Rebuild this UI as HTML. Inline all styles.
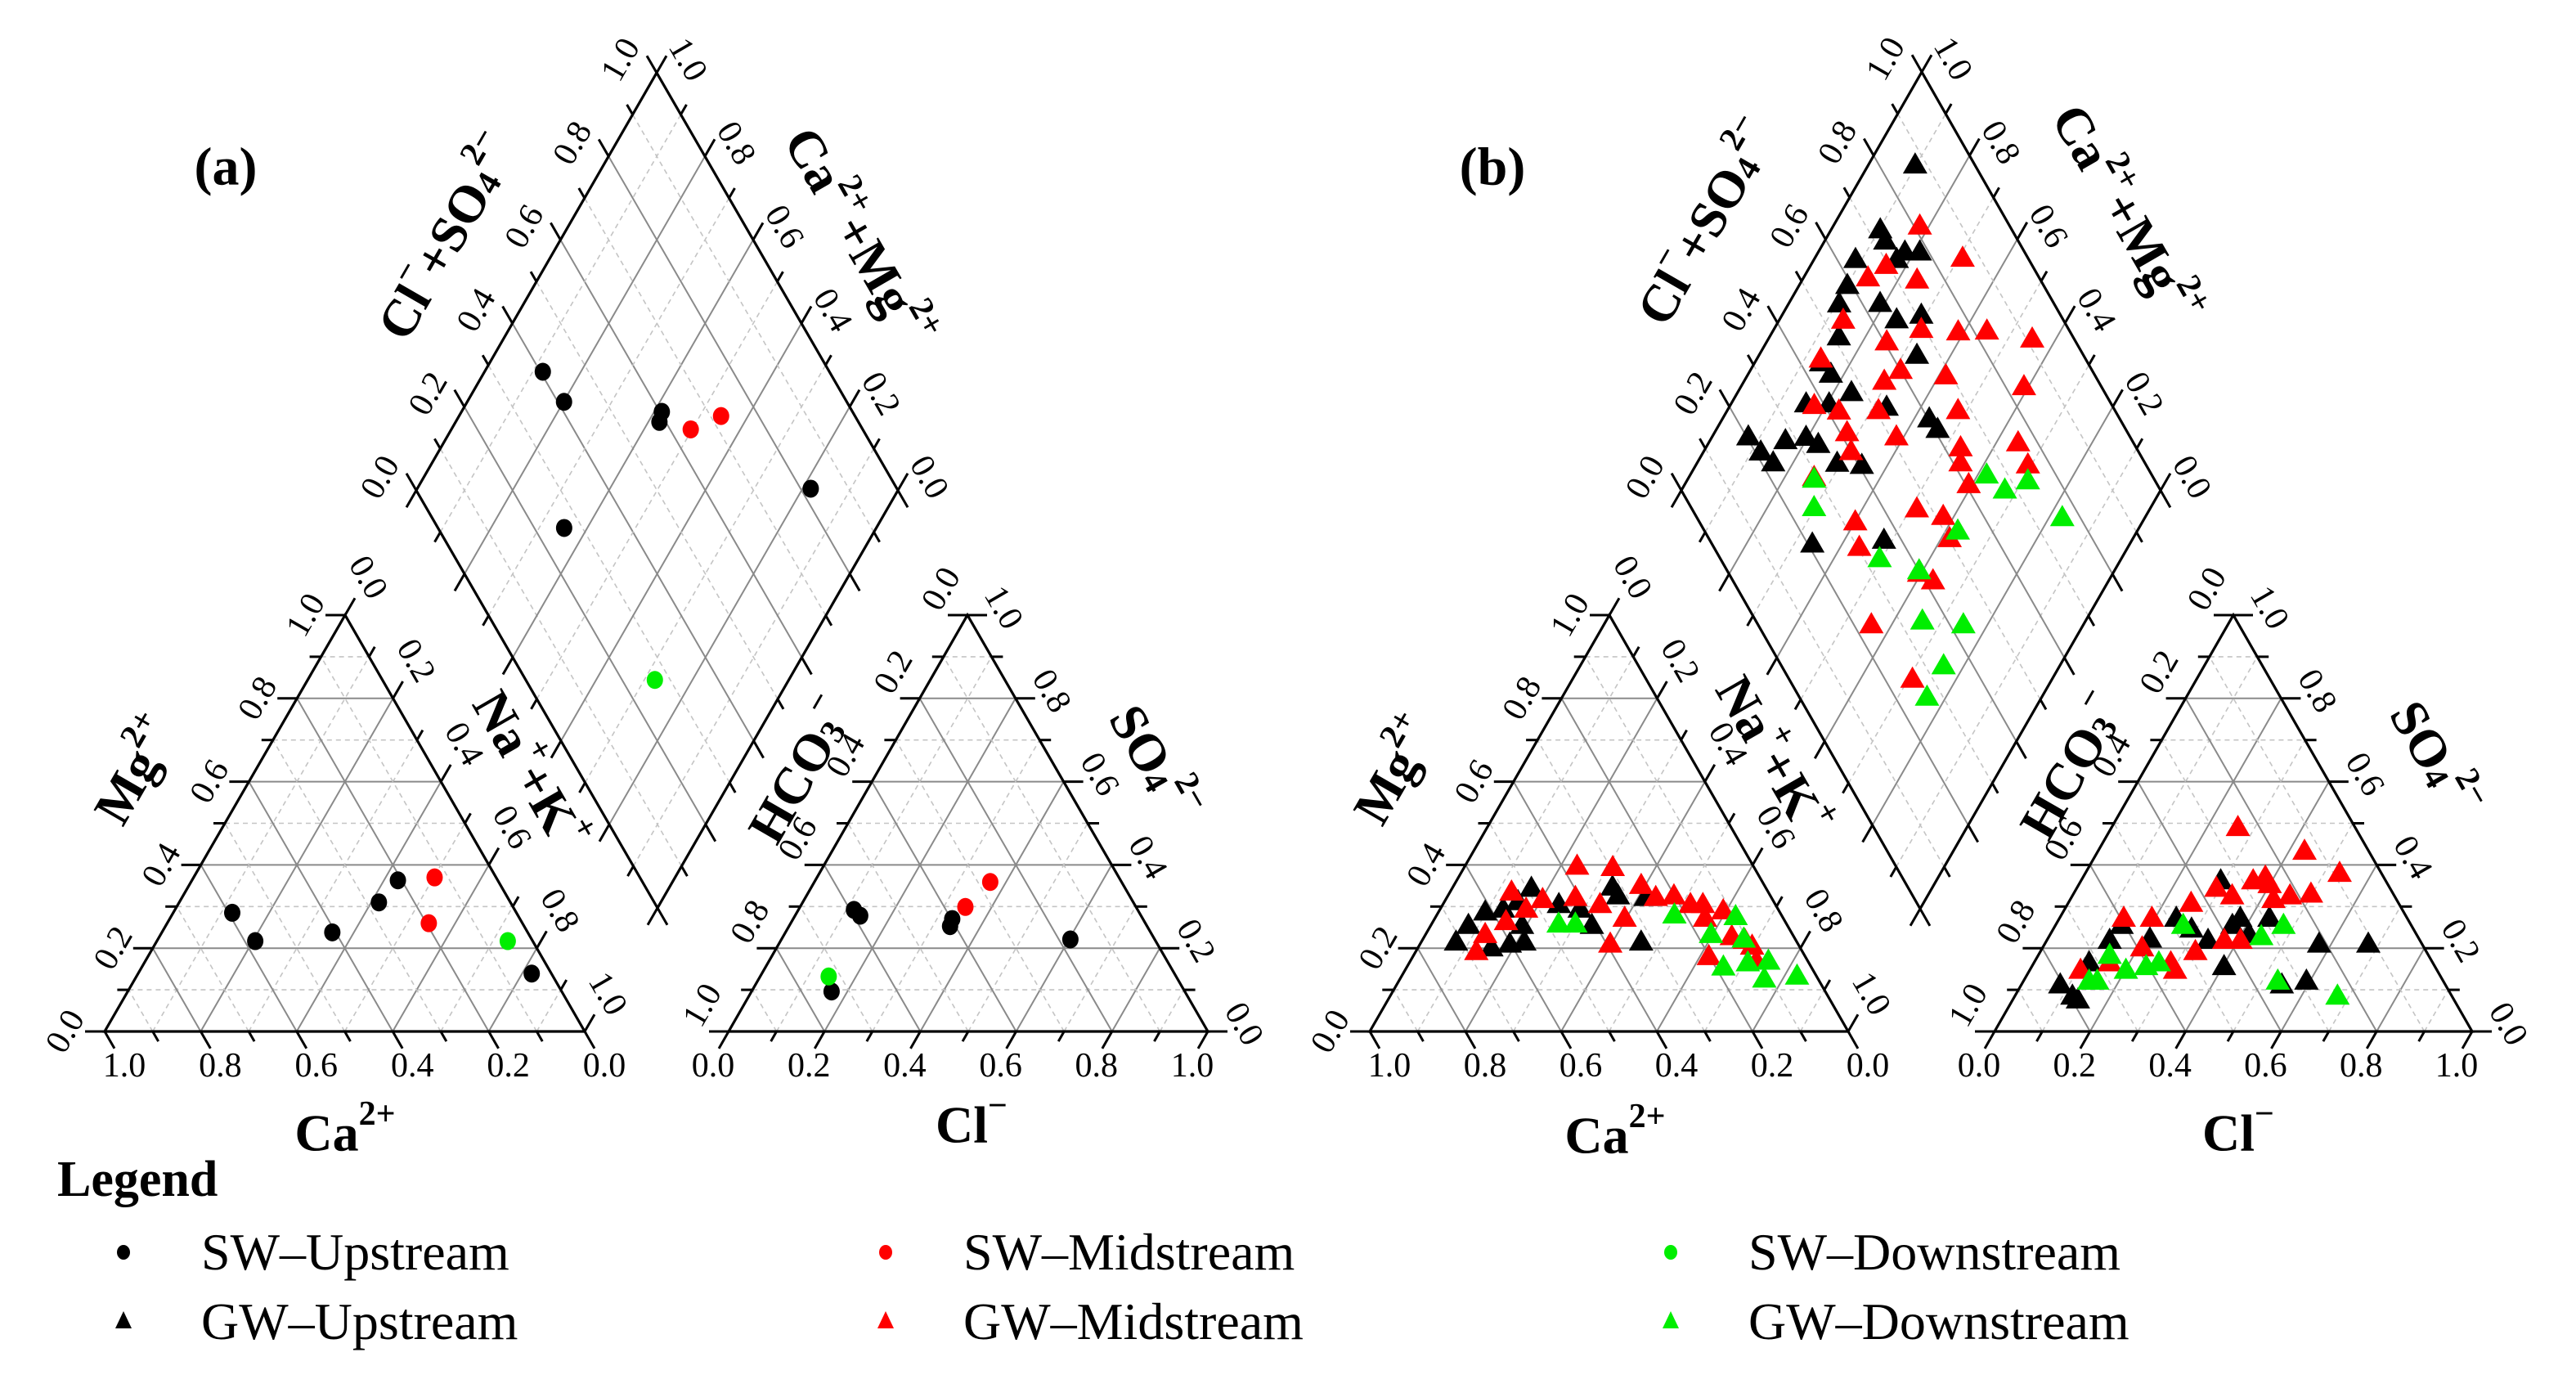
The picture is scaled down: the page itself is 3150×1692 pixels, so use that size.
<!DOCTYPE html>
<html><head><meta charset="utf-8"><style>
html,body{margin:0;padding:0;background:#fff;}
svg{display:block;font-family:"Liberation Serif",serif;}
</style></head><body>
<svg id="chart" width="3150" height="1692" viewBox="0 0 3150 1692" xmlns="http://www.w3.org/2000/svg">
<rect width="3150" height="1692" fill="#fff"/>
</svg>
<script>
// ===== Panel (a): surface water =====
// cation triangle values: [Na+K, Mg]
const aCatUp = [[0.123,0.285],[0.205,0.217],[0.355,0.238],[0.416,0.31],[0.429,0.363],[0.82,0.139]];
const aCatMid = [[0.502,0.37],[0.545,0.26]];
const aCatDown = [[0.731,0.217]];
// anion triangle values: [Cl, SO4]
const aAnUp = [[0.116,0.292],[0.136,0.278],[0.332,0.27],[0.336,0.253],[0.603,0.221],[0.167,0.096]];
const aAnMid = [[0.345,0.299],[0.367,0.359]];
const aAnDown = [[0.143,0.132]];
// diamond values: [Ca+Mg, Cl+SO4]
const aDiaUp = [[0.879,0.405],[0.799,0.413],[0.584,0.604],[0.577,0.587],[0.183,0.821],[0.648,0.262]];
const aDiaMid = [[0.503,0.643],[0.456,0.722]];
const aDiaDown = [[0.278,0.268]];

// ===== Panel (b): groundwater =====
const bCatUp = [[0.073,0.214],[0.079,0.254],[0.098,0.286],[0.132,0.293],[0.154,0.311],[0.166,0.343],[0.154,0.2],[0.188,0.209],[0.216,0.214],[0.191,0.254],[0.243,0.304],[0.337,0.254],[0.334,0.346],[0.356,0.325],[0.46,0.214],[0.416,0.321],[0.292,0.293]];
const bCatMid = [[0.127,0.191],[0.125,0.232],[0.153,0.263],[0.129,0.334],[0.18,0.293],[0.203,0.316],[0.235,0.396],[0.311,0.393],[0.329,0.304],[0.269,0.321],[0.398,0.209],[0.397,0.271],[0.392,0.35],[0.437,0.321],[0.473,0.325],[0.518,0.304],[0.565,0.271],[0.619,0.179],[0.594,0.289],[0.643,0.227],[0.675,0.218],[0.697,0.204],[0.724,0.168],[0.544,0.304]];
const bCatDown = [[0.266,0.257],[0.301,0.257],[0.497,0.279],[0.597,0.232],[0.627,0.275],[0.671,0.221],[0.749,0.168],[0.762,0.125],[0.827,0.132],[0.662,0.154],[0.708,0.164]];
const bAnUp = [[0.082,0.111],[0.121,0.084],[0.137,0.075],[0.116,0.164],[0.132,0.218],[0.139,0.254],[0.215,0.221],[0.245,0.271],[0.29,0.245],[0.338,0.218],[0.293,0.361],[0.403,0.155],[0.371,0.254],[0.379,0.271],[0.417,0.232],[0.575,0.209],[0.678,0.209],[0.546,0.111],[0.593,0.12],[0.44,0.271]];
const bAnMid = [[0.107,0.146],[0.159,0.164],[0.135,0.271],[0.194,0.271],[0.209,0.2],[0.287,0.164],[0.258,0.307],[0.293,0.343],[0.335,0.325],[0.406,0.218],[0.361,0.361],[0.4,0.352],[0.426,0.316],[0.456,0.325],[0.498,0.329],[0.433,0.432],[0.533,0.379],[0.265,0.489],[0.372,0.218],[0.305,0.146],[0.325,0.191],[0.382,0.37]];
const bAnDown = [[0.155,0.12],[0.15,0.182],[0.202,0.146],[0.24,0.155],[0.262,0.164],[0.268,0.254],[0.445,0.227],[0.478,0.254],[0.533,0.12],[0.676,0.084],[0.138,0.12]];
const bDiaUp = [[0.902,0.875],[0.897,0.725],[0.873,0.722],[0.913,0.638],[0.827,0.724],[0.788,0.781],[0.899,0.59],[0.894,0.551],[0.809,0.637],[0.755,0.652],[0.709,0.709],[0.855,0.511],[0.67,0.652],[0.861,0.443],[0.827,0.45],[0.762,0.471],[0.843,0.363],[0.795,0.411],[0.924,0.203],[0.88,0.211],[0.841,0.224],[0.842,0.276],[0.803,0.323],[0.769,0.34],[0.707,0.357],[0.653,0.406],[0.671,0.527],[0.568,0.602],[0.538,0.607],[0.517,0.363],[0.662,0.209],[0.819,0.75]];
const bDiaMid = [[0.819,0.812],[0.691,0.863],[0.865,0.642],[0.842,0.695],[0.76,0.742],[0.866,0.54],[0.749,0.605],[0.692,0.692],[0.612,0.766],[0.553,0.827],[0.449,0.912],[0.866,0.447],[0.686,0.6],[0.707,0.553],[0.585,0.688],[0.409,0.838],[0.824,0.378],[0.766,0.423],[0.684,0.506],[0.518,0.672],[0.723,0.414],[0.615,0.512],[0.468,0.633],[0.354,0.759],[0.45,0.615],[0.692,0.4],[0.307,0.753],[0.407,0.606],[0.738,0.292],[0.486,0.469],[0.599,0.325],[0.422,0.515],[0.56,0.303],[0.382,0.502],[0.404,0.397],[0.366,0.417],[0.442,0.236],[0.291,0.257]];
const bDiaDown = [[0.736,0.29],[0.702,0.256],[0.381,0.655],[0.325,0.675],[0.288,0.734],[0.172,0.762],[0.374,0.528],[0.504,0.332],[0.407,0.4],[0.34,0.347],[0.25,0.428],[0.242,0.338],[0.239,0.266]];

const tickValues = [0,0.1,0.2,0.3,0.4,0.5,0.6,0.7,0.8,0.9,1.0];
const legendLabels = ["SW\u2013Upstream","SW\u2013Midstream","SW\u2013Downstream","GW\u2013Upstream","GW\u2013Midstream","GW\u2013Downstream"];

const NS = "http://www.w3.org/2000/svg";
const svg = document.getElementById('chart');
function mk(tag, parent){ const e=document.createElementNS(NS,tag); parent.appendChild(e); return e; }
function P(f,a,b){ return [f.O[0]+a*f.u[0]+b*f.v[0], f.O[1]+a*f.u[1]+b*f.v[1]]; }
function norm(d){ const l=Math.hypot(d[0],d[1]); return [d[0]/l,d[1]/l]; }
const COLORS = {up:'#000000', mid:'#ff0000', down:'#00ee00'};

function gridLine(g,p,q,major){
  const l=mk('line',g);
  l.setAttribute('x1',p[0]);l.setAttribute('y1',p[1]);l.setAttribute('x2',q[0]);l.setAttribute('y2',q[1]);
  l.setAttribute('stroke', major?'#8a8a8a':'#c4c4c4');
  l.setAttribute('stroke-width', major?2:1.6);
  if(!major) l.setAttribute('stroke-dasharray','6 5');
  
  
}

function drawGrid(f, diamond, name){
  const g=mk('g',svg);
  
  
  for(let i=1;i<10;i++){
    const k=i/10, major=(i%2===0);
    if(diamond){
      gridLine(g,P(f,k,0),P(f,k,1),major);
      gridLine(g,P(f,0,k),P(f,1,k),major);
    } else {
      gridLine(g,P(f,k,0),P(f,k,1-k),major);
      gridLine(g,P(f,0,k),P(f,1-k,k),major);
      gridLine(g,P(f,k,0),P(f,0,k),major);
    }
  }
  const verts = diamond ? [P(f,0,0),P(f,1,0),P(f,1,1),P(f,0,1)] : [P(f,0,0),P(f,1,0),P(f,0,1)];
  const poly=mk('polygon',svg);
  poly.setAttribute('points',verts.map(p=>p.join(',')).join(' '));
  poly.setAttribute('fill','none');poly.setAttribute('stroke','#000');poly.setAttribute('stroke-width',3.2);
  poly.setAttribute('stroke-linejoin','miter');
  
  
}

function drawAxis(f, name, posFn, dir, labelFn, off, rot){
  const g=mk('g',svg);
  
  
  const d=norm(dir);
  tickValues.forEach((k,i)=>{
    const ab=posFn(k), p=P(f,ab[0],ab[1]);
    const len=(i%2===0)?24:14;
    const t=mk('line',g);
    t.setAttribute('x1',p[0]);t.setAttribute('y1',p[1]);
    t.setAttribute('x2',p[0]+d[0]*len);t.setAttribute('y2',p[1]+d[1]*len);
    t.setAttribute('stroke','#000');t.setAttribute('stroke-width',3);
    
    
    if(labelFn && i%2===0){
      const x=p[0]+off[0], y=p[1]+off[1];
      const tx=mk('text',g);
      tx.setAttribute('x',x);tx.setAttribute('y',y);
      tx.setAttribute('text-anchor','middle');tx.setAttribute('dominant-baseline','central');
      tx.setAttribute('font-size',42);
      tx.setAttribute('transform','rotate('+rot+' '+x+' '+y+')');
      tx.textContent=labelFn(k);
      
      
    }
  });
}

function drawPoints(f, arr, color, shape, name){
  const g=mk('g',svg);
  
  
  arr.forEach(v=>{
    const p=P(f,v[0],v[1]);
    let m;
    if(shape==='circle'){
      m=mk('ellipse',g); m.setAttribute('cx',p[0]); m.setAttribute('cy',p[1]); m.setAttribute('rx',10); m.setAttribute('ry',11);
    } else {
      m=mk('polygon',g);
      m.setAttribute('points',[[p[0],p[1]-16],[p[0]-15,p[1]+10],[p[0]+15,p[1]+10]].map(q=>q.join(',')).join(' '));
    }
    m.setAttribute('fill',color);
    
    
  });
}

function title(x,y,rot,html,name){
  const t=mk('text',svg);
  t.setAttribute('x',x);t.setAttribute('y',y);
  t.setAttribute('text-anchor','middle');t.setAttribute('dominant-baseline','central');
  t.setAttribute('font-size',64);t.setAttribute('font-weight','bold');
  t.setAttribute('transform','rotate('+rot+' '+x+' '+y+')');
  t.innerHTML=html;
  
  
}
const SUP=(s)=>'<tspan font-size="42" baseline-shift="55%">'+s+'</tspan>';
const SUB=(s)=>'<tspan font-size="42" baseline-shift="-25%">'+s+'</tspan>';

const fmt=k=>k.toFixed(1);

function panel(p, geo, catData, anData, diaData, shape, tag){
  const cat=geo.cat, an=geo.an, dia=geo.dia;
  drawGrid(cat,false,tag+'-cation-triangle');
  drawGrid(an,false,tag+'-anion-triangle');
  drawGrid(dia,true,tag+'-diamond');
  const ucat=cat.u, vcat=cat.v;
  drawAxis(cat,tag+'-mg-axis',k=>[0,k],[-ucat[0],-ucat[1]],fmt,[-48,0],-60);
  drawAxis(cat,tag+'-ca-axis',k=>[k,0],[ucat[0]-vcat[0],ucat[1]-vcat[1]],k=>fmt(1-k),[24,42],0);
  drawAxis(cat,tag+'-nak-axis',k=>[k,1-k],vcat,fmt,[28,-46],60);
  const uan=an.u, van=an.v;
  drawAxis(an,tag+'-hco3-axis',k=>[0,k],[-uan[0],-uan[1]],k=>fmt(1-k),[-32,-32],-60);
  drawAxis(an,tag+'-cl-axis',k=>[k,0],[-van[0],-van[1]],fmt,[-19,42],0);
  drawAxis(an,tag+'-so4-axis',k=>[1-k,k],uan,fmt,[44,-9],60);
  drawAxis(dia,tag+'-clso4-axis',k=>[1,k],dia.u,fmt,[-44,-16],-60);
  drawAxis(dia,tag+'-camg-axis',k=>[k,1],dia.v,fmt,[38,-16],60);
  drawAxis(dia,tag+'-diamond-lower-left-axis',k=>[k,0],[-dia.v[0],-dia.v[1]],null,[0,0],0);
  drawAxis(dia,tag+'-diamond-lower-right-axis',k=>[0,k],[-dia.u[0],-dia.u[1]],null,[0,0],0);
  const kinds=['up','mid','down'];
  kinds.forEach((kd,i)=>{
    drawPoints(cat,catData[i],COLORS[kd],shape,tag+'-cation-'+kd);
    drawPoints(an,anData[i],COLORS[kd],shape,tag+'-anion-'+kd);
    drawPoints(dia,diaData[i],COLORS[kd],shape,tag+'-diamond-'+kd);
  });
}

const geoA={
  cat:{O:[128,1261],u:[587,0],v:[294,-509]},
  an:{O:[891,1261],u:[586,0],v:[292,-509]},
  dia:{O:[804,1110],u:[-295,-510.5],v:[294,-510.5]}
};
const geoB={
  cat:{O:[1675,1261],u:[585,0],v:[293,-509]},
  an:{O:[2439,1261],u:[584,0],v:[292,-509]},
  dia:{O:[2348,1111],u:[-292,-511.5],v:[294,-511.5]}
};
panel('a',geoA,[aCatUp,aCatMid,aCatDown],[aAnUp,aAnMid,aAnDown],[aDiaUp,aDiaMid,aDiaDown],'circle','panel-a');
panel('b',geoB,[bCatUp,bCatMid,bCatDown],[bAnUp,bAnMid,bAnDown],[bDiaUp,bDiaMid,bDiaDown],'triangle','panel-b');

const titles=[
 [547,290,-60,'Cl'+SUP('\u2212')+'+SO'+SUB('4')+SUP('2\u2212'),'clso4-title-a'],
 [1050,290,60,'Ca'+SUP('2+')+'+Mg'+SUP('2+'),'camg-title-a'],
 [166,942,-60,'Mg'+SUP('2+'),'mg-title-a'],
 [648,942,60,'Na'+SUP('+')+'+K'+SUP('+'),'nak-title-a'],
 [422,1385,0,'Ca'+SUP('2+'),'ca-title-a'],
 [979,942,-60,'HCO'+SUB('3')+SUP('\u2212'),'hco3-title-a'],
 [1411,933,60,'SO'+SUB('4')+SUP('2\u2212'),'so4-title-a'],
 [1188,1375,0,'Cl'+SUP('\u2212'),'cl-title-a'],
 [2087,272,-60,'Cl'+SUP('\u2212')+'+SO'+SUB('4')+SUP('2\u2212'),'clso4-title-b'],
 [2600,262,60,'Ca'+SUP('2+')+'+Mg'+SUP('2+'),'camg-title-b'],
 [1706,942,-60,'Mg'+SUP('2+'),'mg-title-b'],
 [2168,924,60,'Na'+SUP('+')+'+K'+SUP('+'),'nak-title-b'],
 [1975,1388,0,'Ca'+SUP('2+'),'ca-title-b'],
 [2534,937,-60,'HCO'+SUB('3')+SUP('\u2212'),'hco3-title-b'],
 [2977,928,60,'SO'+SUB('4')+SUP('2\u2212'),'so4-title-b'],
 [2737,1385,0,'Cl'+SUP('\u2212'),'cl-title-b']
];
titles.forEach(t=>title(t[0],t[1],t[2],t[3],t[4]));

[['(a)',276,204,'panel-label-a'],['(b)',1825,204,'panel-label-b']].forEach(d=>{
  const t=mk('text',svg);
  t.setAttribute('x',d[1]);t.setAttribute('y',d[2]);
  t.setAttribute('text-anchor','middle');t.setAttribute('dominant-baseline','central');
  t.setAttribute('font-size',66);t.setAttribute('font-weight','bold');
  t.textContent=d[0];
  
  
});

const lg=mk('g',svg);


const lt=mk('text',lg);
lt.setAttribute('x',70);lt.setAttribute('y',1462);
lt.setAttribute('font-size',62);lt.setAttribute('font-weight','bold');
lt.textContent='Legend';


const colX=[151,1083,2043], rowY=[1531,1616], colColors=['#000000','#ff0000','#00ee00'];
legendLabels.forEach((lab,i)=>{
  const r=Math.floor(i/3), c=i%3;
  const mx=colX[c], my=rowY[r];
  const e=mk('g',lg);
  
  
  let m;
  if(r===0){ m=mk('ellipse',e); m.setAttribute('cx',mx); m.setAttribute('cy',my); m.setAttribute('rx',8); m.setAttribute('ry',9); }
  else { m=mk('polygon',e); m.setAttribute('points',[[mx,my-13],[mx-10,my+8],[mx+10,my+8]].map(q=>q.join(',')).join(' ')); }
  m.setAttribute('fill',colColors[c]);
  
  
  const t=mk('text',e);
  t.setAttribute('x',colX[c]+95);t.setAttribute('y',my+21);
  t.setAttribute('font-size',64);
  t.textContent=lab;
  
  
});
</script>
</body></html>
